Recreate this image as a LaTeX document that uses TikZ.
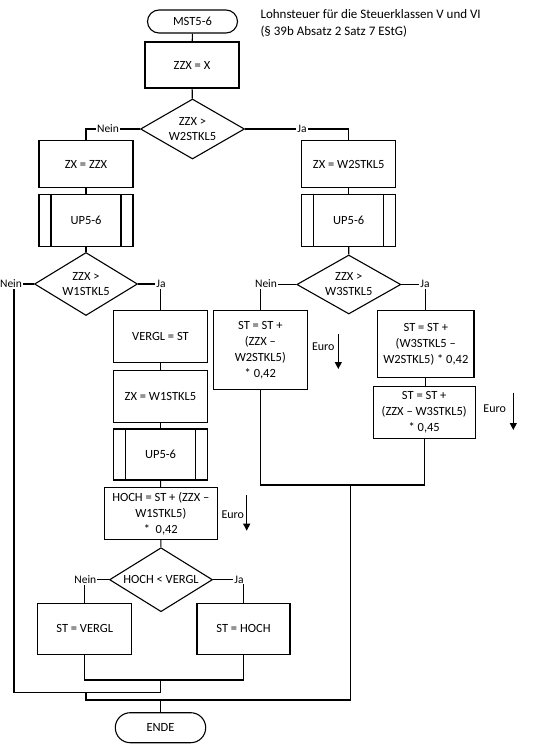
\documentclass[tikz,border=0pt]{standalone}
\usepackage{fontspec}
\setmainfont{Carlito}
\usetikzlibrary{shapes.geometric, shapes.misc, arrows.meta}

\begin{document}
\begin{tikzpicture}[x=1pt, y=-1pt, line width=1.1pt,
    font=\fontsize{12.5}{16}\selectfont,
    box/.style={draw, rectangle, align=center, inner sep=1pt, minimum width=94pt, minimum height=47pt},
    subproc/.style={box, path picture={
        \draw ([xshift=12pt]path picture bounding box.north west) -- ([xshift=12pt]path picture bounding box.south west);
        \draw ([xshift=-12pt]path picture bounding box.north east) -- ([xshift=-12pt]path picture bounding box.south east);
    }},
    decision/.style={draw, diamond, align=center, inner sep=0pt, aspect=1.7,
        minimum width=104pt, minimum height=61pt, font=\fontsize{12.5}{15}\selectfont},
    terminal/.style={draw, rounded rectangle, minimum width=92pt, minimum height=23pt, inner sep=1pt},
    lbl/.style={fill=white, inner sep=1pt, font=\fontsize{11.5}{13}\selectfont},
    euro/.style={inner sep=0pt, font=\fontsize{12}{14}\selectfont},
    euroarrow/.style={-{Triangle[length=7pt, width=7pt]}}
]

    \useasboundingbox (0,0) rectangle (545,747);

    \node[anchor=west, align=left, inner sep=0pt, font=\fontsize{13}{17}\selectfont] (title) at (260,23.5)
        {Lohnsteuer für die Steuerklassen V und VI\\(§ 39b Absatz 2 Satz 7 EStG)};

    % main column
    \node[terminal] (start) at (192.5,21.5) {MST5-6};
    \node[box, minimum height=46pt] (zzx) at (192,65) {ZZX = X};
    \node[decision, minimum height=60pt] (d1) at (192.5,129) {ZZX >\\W2STKL5};

    % left branch
    \node[box] (zxl) at (86,164) {ZX = ZZX};
    \node[subproc, minimum height=52pt] (upl) at (86,220.5) {UP5-6};
    \node[decision, minimum width=103pt, minimum height=63pt] (d2) at (86,284) {ZZX >\\W1STKL5};
    \node[box, minimum width=93.6pt, minimum height=51.6pt] (vergl) at (160.5,336.5) {VERGL = ST};
    \node[box, minimum width=93.6pt, minimum height=51.6pt] (zxw) at (160.5,396.5) {ZX = W1STKL5};
    \node[subproc, minimum width=93.6pt, minimum height=51pt] (upw) at (160.5,454.5) {UP5-6};
    \node[box, minimum width=113pt, minimum height=52pt] (hoch) at (160.8,513.3)
        {HOCH = ST + (ZZX --\\W1STKL5)\\*\ \ 0,42};
    \node[decision, minimum width=103pt, minimum height=64pt] (d4) at (161,579.7) {HOCH < VERGL};
    \node[box, minimum height=51pt] (stv) at (84.7,628.8) {ST = VERGL};
    \node[box, minimum width=93pt, minimum height=51pt] (sth) at (243.5,628.8) {ST = HOCH};

    % right branch
    \node[box] (zxr) at (348.7,164) {ZX = W2STKL5};
    \node[subproc, minimum height=52pt] (upr) at (348.7,220.5) {UP5-6};
    \node[decision, minimum height=59pt] (d3) at (348.8,284.5) {ZZX >\\W3STKL5};
    \node[box, minimum height=78.6pt] (sta) at (260.3,350) {ST = ST +\\(ZZX --\\W2STKL5)\\* 0,42};
    \node[box, minimum width=96.3pt, minimum height=66.6pt] (stb) at (425.8,344)
        {ST = ST +\\(W3STKL5 --\\W2STKL5) * 0,42};
    \node[box, minimum width=101.7pt, minimum height=51.6pt] (stc) at (424.2,412.5)
        {ST = ST +\\(ZZX -- W3STKL5)\\* 0,45};

    \node[terminal, minimum width=92.4pt, minimum height=30pt] (ende) at (160.5,727.7) {ENDE};

    % join points
    \coordinate (m1) at (160.7,680);
    \coordinate (m2) at (350.7,485);
    \coordinate (bl) at (14,692.3);
    \coordinate (b1) at (160.7,692.3);
    \coordinate (b2) at (86,692.3);
    \coordinate (b4) at (350.7,700);
    \coordinate (b5) at (ende.north |- b4);

    % connectors
    \draw (start) -- (zzx);
    \draw (zzx) -- (d1);
    \draw (d1.west) -| (zxl.north);
    \draw (d1.east) -| (zxr.north);
    \draw (zxl) -- (upl);
    \draw (upl) -- (d2);
    \draw (zxr) -- (upr);
    \draw (upr) -- (d3);

    \draw (d2.west) -| (bl) -- (b1);
    \draw (d2.east) -| (vergl.north);
    \draw (vergl) -- (zxw);
    \draw (zxw) -- (upw);
    \draw (upw) -- (hoch);
    \draw (hoch) -- (d4);
    \draw (d4.west) -| (stv.north);
    \draw (d4.east) -| (sth.north);
    \draw (stv.south) |- (m1) -| (sth.south);
    \draw (m1) -- (b1);

    \draw (d3.west) -| (sta.north);
    \draw (d3.east) -| (stb.north);
    \draw (stb.south) -- (stb.south |- stc.north);
    \draw (sta.south) |- (m2) -| (stc.south);

    \draw (b2) |- (b4) -- (m2);
    \draw (b5) -- (ende.north);

    % branch labels
    \node[lbl] (nein1) at (108,129) {Nein};
    \node[lbl] (ja1) at (302,129) {Ja};
    \node[lbl] (nein2) at (11,284) {Nein};
    \node[lbl] (ja2) at (161,284) {Ja};
    \node[lbl] (nein3) at (266,284) {Nein};
    \node[lbl] (ja3) at (425,284) {Ja};
    \node[lbl] (nein4) at (85.3,579.7) {Nein};
    \node[lbl] (ja4) at (239,579.7) {Ja};

    % Euro rounding
    \node[euro] (euro1) at (323.3,347) {Euro};
    \coordinate (e1s) at (338.3,334.3);
    \coordinate (e1e) at (338.3,369);
    \draw[euroarrow] (e1s) -- (e1e);

    \node[euro] (euro2) at (494.7,409) {Euro};
    \coordinate (e2s) at (513.3,392.7);
    \coordinate (e2e) at (513.3,430);
    \draw[euroarrow] (e2s) -- (e2e);

    \node[euro] (euro3) at (232.8,515) {Euro};
    \coordinate (e3s) at (246.7,495);
    \coordinate (e3e) at (246.7,530.7);
    \draw[euroarrow] (e3s) -- (e3e);

\end{tikzpicture}
\end{document}
